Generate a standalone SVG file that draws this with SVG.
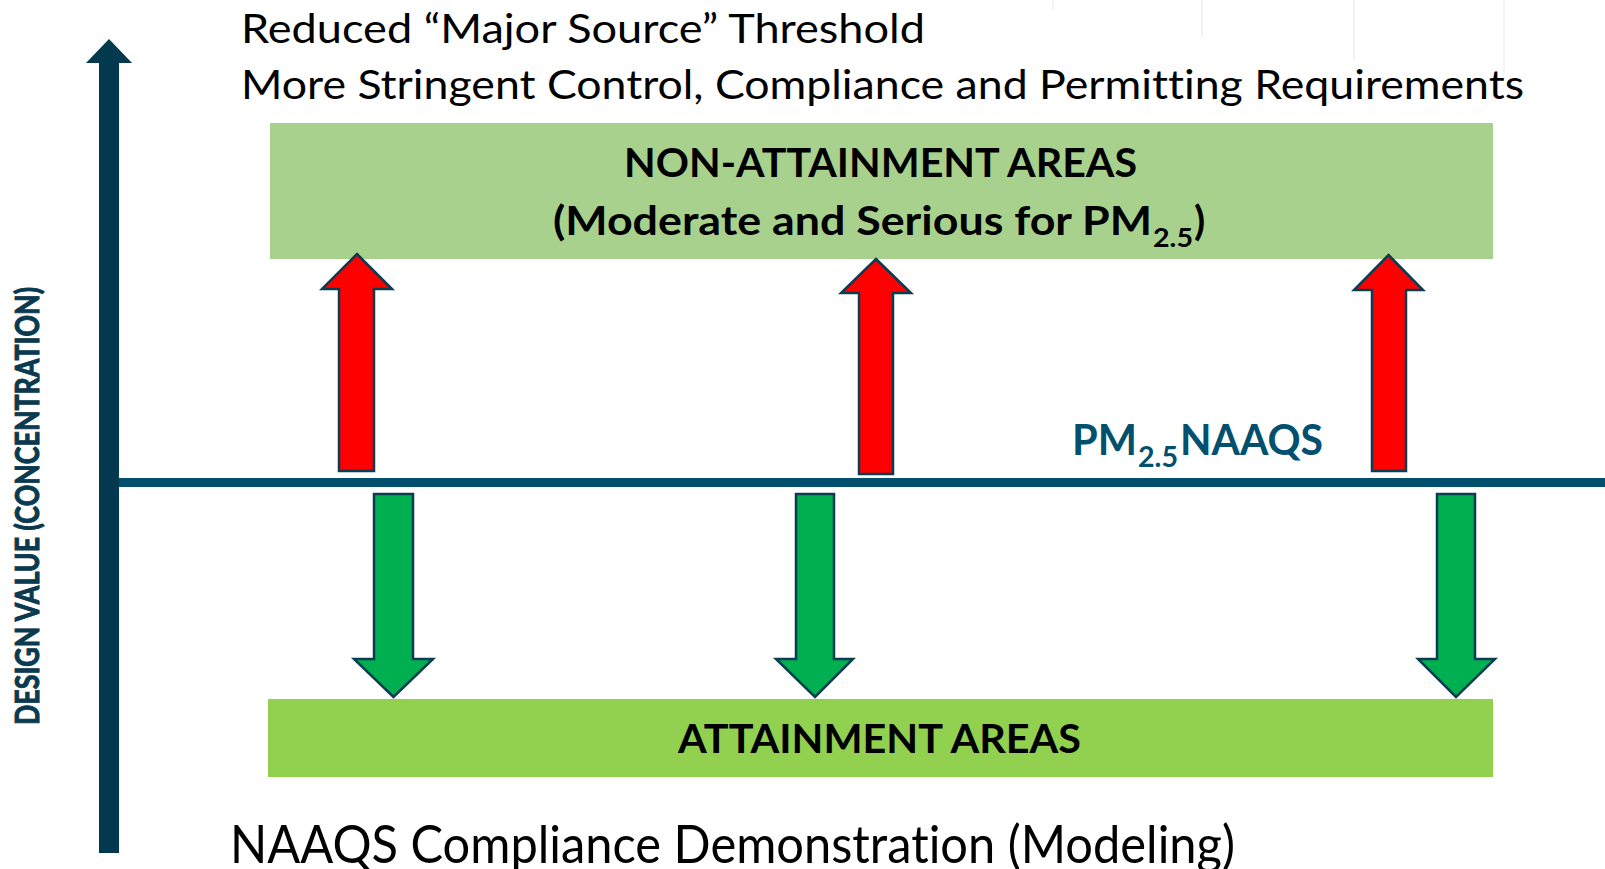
<svg xmlns="http://www.w3.org/2000/svg" width="1605" height="869" viewBox="0 0 1605 869">
  <style>
    text { font-variant-ligatures: none; font-feature-settings: "liga" 0, "clig" 0; }
    .reg { font-family: Lato, "Open Sans", "Liberation Sans", sans-serif; fill: #000000; }
    .bold { font-family: Lato, "Open Sans", "Liberation Sans", sans-serif; font-weight: bold; fill: #000000; }
    .teal { fill: #02506E; }
    .up { fill: #FF0000; stroke: #0B3C52; stroke-width: 2.5; stroke-linejoin: miter; }
    .down { fill: #00B050; stroke: #0B3C52; stroke-width: 2.5; stroke-linejoin: miter; }
    .faint { stroke: #EEF1F1; stroke-width: 1.5; }
  </style>
  <rect x="0" y="0" width="1605" height="869" fill="#FFFFFF"/>
  <g id="artifacts">
    <line class="faint" x1="1053" y1="0" x2="1053" y2="10"/>
    <line class="faint" x1="1202" y1="0" x2="1202" y2="37"/>
    <line class="faint" x1="1354" y1="0" x2="1354" y2="60"/>
    <line class="faint" x1="1504" y1="0" x2="1504" y2="73"/>
  </g>
  <g id="header">
    <text class="reg" x="241" y="43" font-size="41" textLength="684" lengthAdjust="spacingAndGlyphs">Reduced “Major Source” Threshold</text>
    <text class="reg" x="241" y="99" font-size="41" textLength="1283" lengthAdjust="spacingAndGlyphs">More Stringent Control, Compliance and Permitting Requirements</text>
  </g>
  <g id="axis">
    <path d="M109,39 L132,63 L119,63 L119,853 L99,853 L99,63 L86,63 Z" fill="#02394F"/>
    <text class="bold" transform="translate(39,506) rotate(-90)" x="0" y="0" font-size="32" text-anchor="middle" style="fill:#0A3A4F; stroke:#0A3A4F; stroke-width:1" textLength="438" lengthAdjust="spacingAndGlyphs">DESIGN VALUE (CONCENTRATION)</text>
  </g>
  <g id="non-attainment">
    <rect x="270" y="123" width="1223" height="136" fill="#A9D18E"/>
    <text class="bold" x="624" y="177" font-size="41" textLength="513" lengthAdjust="spacingAndGlyphs">NON-ATTAINMENT AREAS</text>
    <text class="bold" x="553" y="235" font-size="41" textLength="599" lengthAdjust="spacingAndGlyphs">(Moderate and Serious for PM</text>
    <text class="bold" x="1153" y="247" font-size="27" textLength="40" lengthAdjust="spacingAndGlyphs">2.5</text>
    <text class="bold" x="1194" y="235" font-size="41">)</text>
  </g>
  <g id="naaqs-line">
    <rect x="119" y="478" width="1486" height="9" fill="#02506E"/>
    <text class="bold teal" x="1072" y="455" font-size="42" textLength="65" lengthAdjust="spacingAndGlyphs" style="fill:#02506E">PM</text>
    <text class="bold teal" x="1138" y="467" font-size="28" textLength="40" lengthAdjust="spacingAndGlyphs" style="fill:#02506E">2.5</text>
    <text class="bold teal" x="1180" y="455" font-size="42" textLength="143" lengthAdjust="spacingAndGlyphs" style="fill:#02506E">NAAQS</text>
  </g>
  <g id="attainment">
    <rect x="268" y="699" width="1225" height="78" fill="#92D050"/>
    <text class="bold" x="678" y="753" font-size="40" textLength="403" lengthAdjust="spacingAndGlyphs">ATTAINMENT AREAS</text>
  </g>
  <g id="footer">
    <text class="reg" x="230" y="863" font-size="52" textLength="1005" lengthAdjust="spacingAndGlyphs">NAAQS Compliance Demonstration (Modeling)</text>
  </g>
  <g id="connectors">
    <path class="up" d="M357,254 L392,289 L374,289 L374,471 L339,471 L339,289 L322,289 Z"/>
    <path class="up" d="M876,259 L911,293 L893,293 L893,474 L859,474 L859,293 L841,293 Z"/>
    <path class="up" d="M1388.5,255 L1423,290 L1406,290 L1406,471 L1372,471 L1372,290 L1354,290 Z"/>
    <path class="down" d="M374,494 L413,494 L413,659 L433,659 L393.5,697 L354,659 L374,659 Z"/>
    <path class="down" d="M796,494 L834,494 L834,659 L853,659 L815,697 L776,659 L796,659 Z"/>
    <path class="down" d="M1437,494 L1475,494 L1475,659 L1495,659 L1456,697 L1418,659 L1437,659 Z"/>
  </g>
</svg>
